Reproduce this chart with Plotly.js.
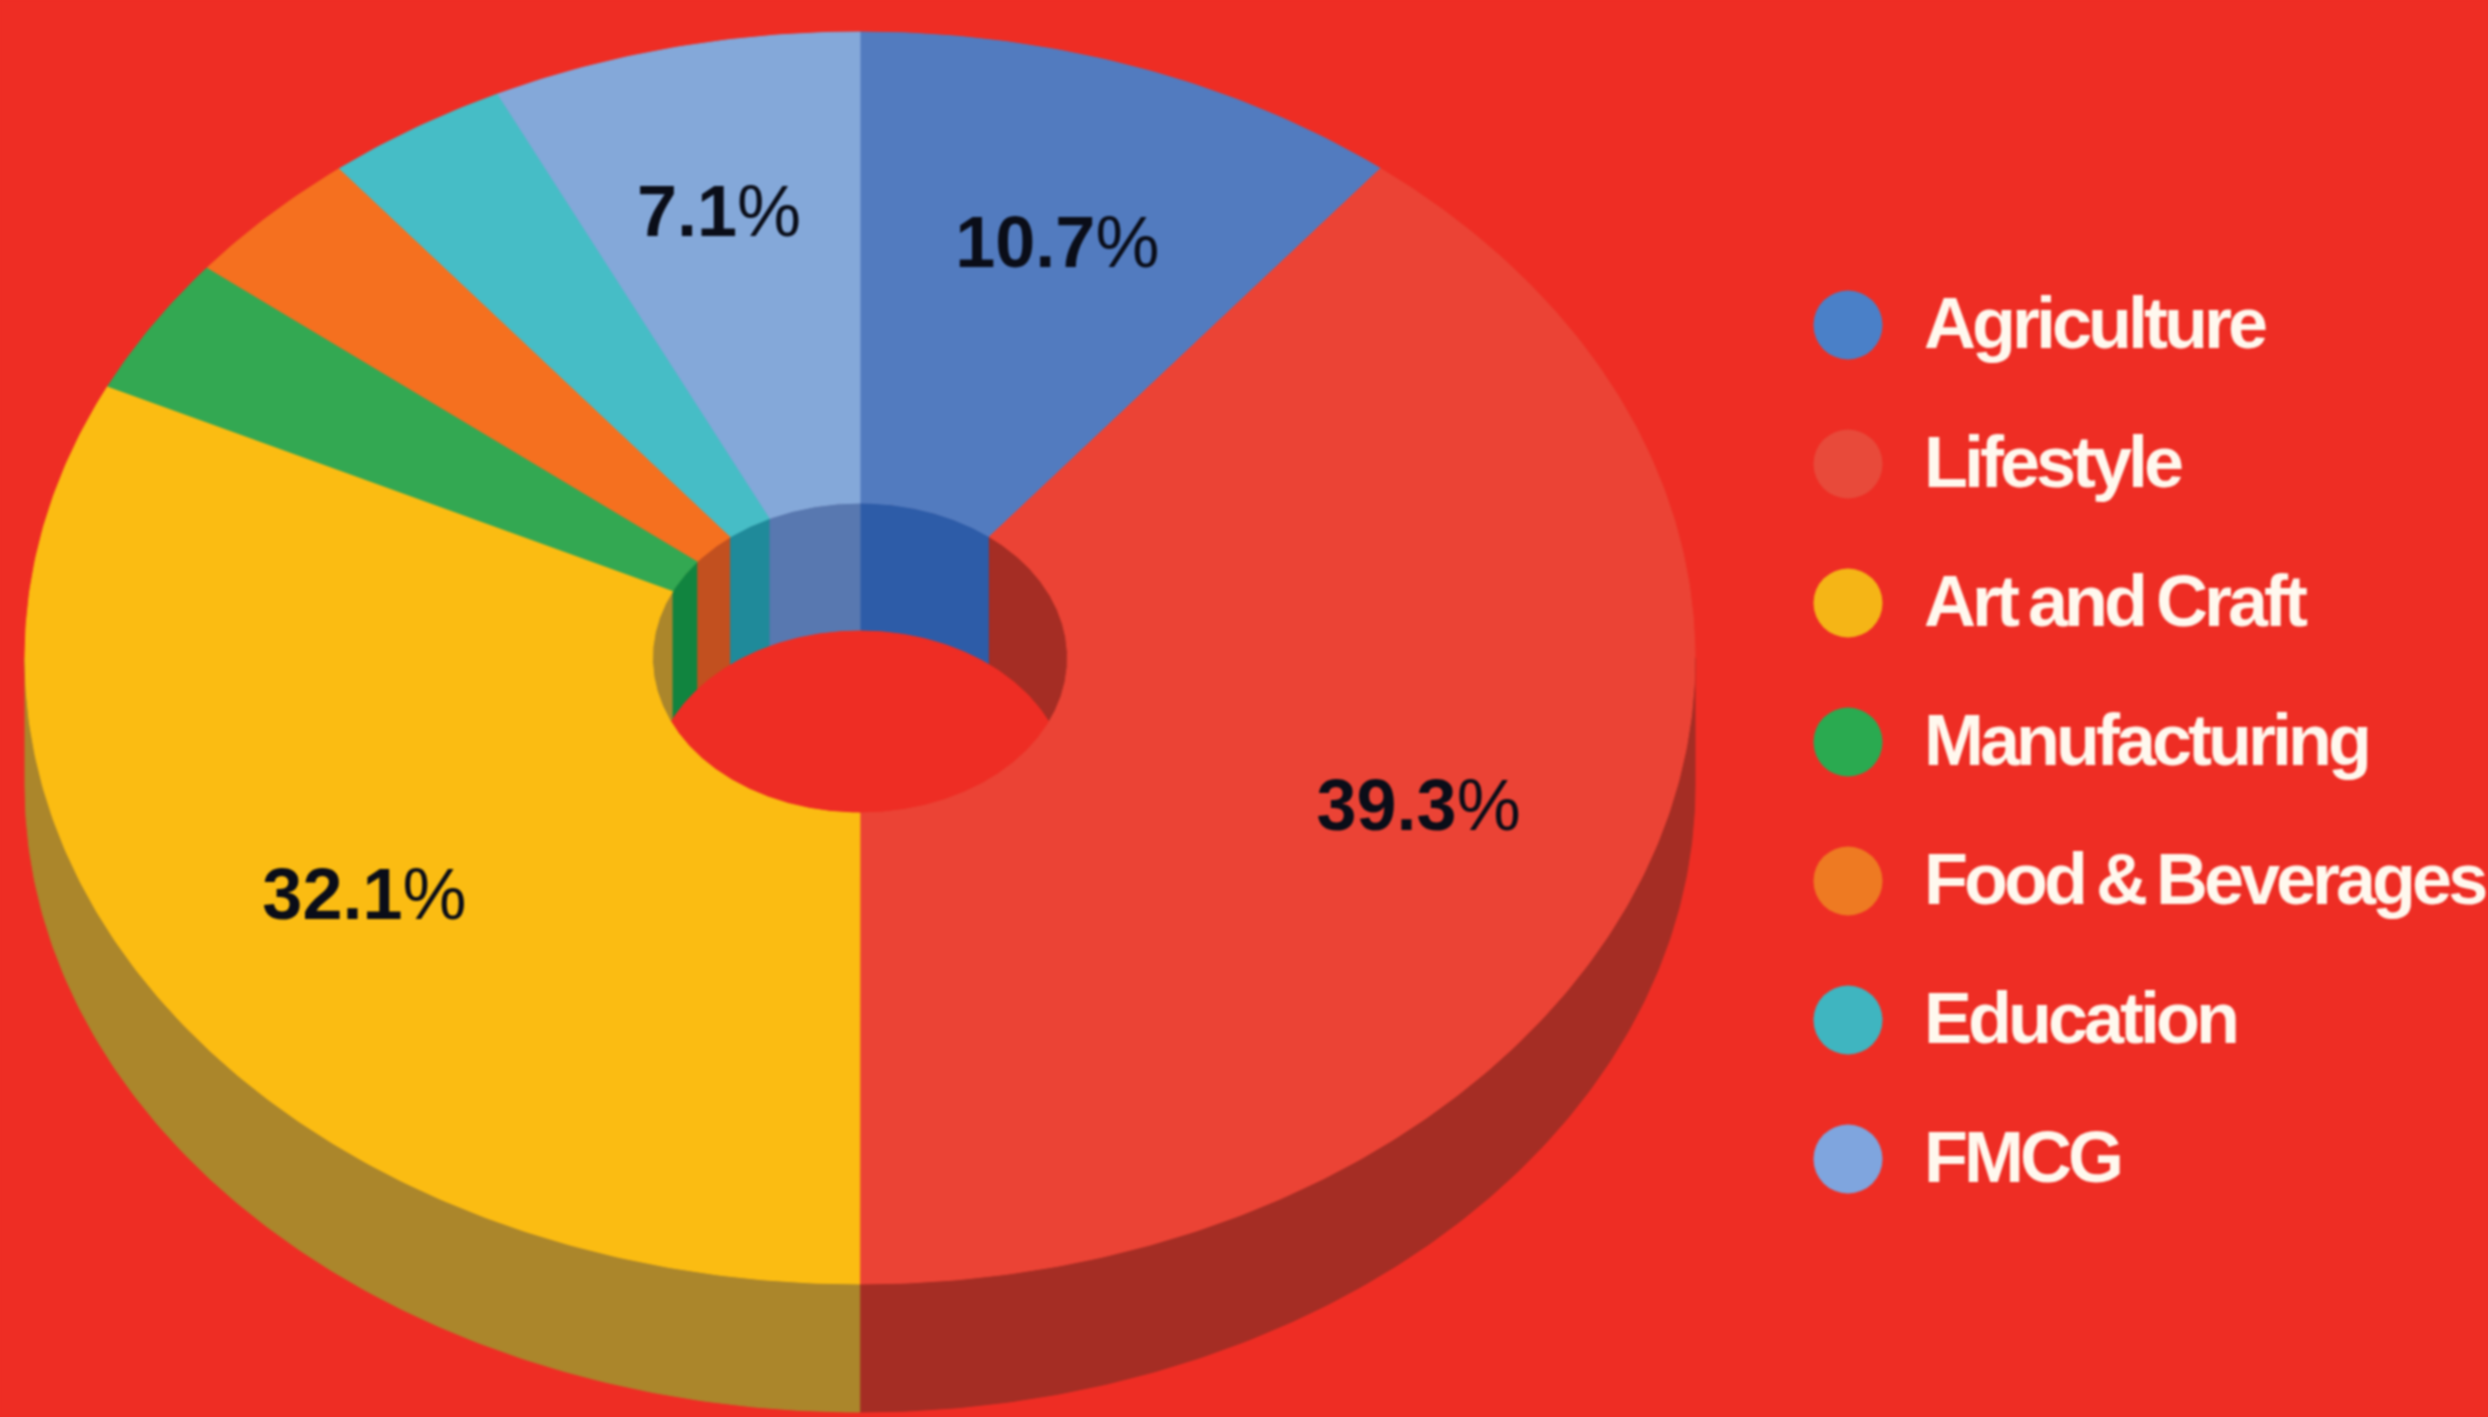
<!DOCTYPE html>
<html>
<head>
<meta charset="utf-8">
<script src="https://cdn.plot.ly/plotly-3.0.1.min.js"></script>
<style>
html,body{margin:0;padding:0;background:#ee2d24;overflow:hidden}
#chart{width:2488px;height:1417px;filter:blur(1.2px)}
.scatterlayer .trace:last-child .textpoint text{letter-spacing:-4px;word-spacing:-4px}
</style>
</head>
<body>
<div id="chart"></div>
<script>
const categories = ["Agriculture","Lifestyle","Art and Craft","Manufacturing","Food & Beverages","Education","FMCG"];
const shares = [10.71,39.29,32.14,3.57,3.57,3.57,7.14];
const topColors = ["#527bbf","#eb4335","#fbbc12","#33a852","#f5701f","#46bdc6","#84a8d9"];
const wallColors = ["#2d5ca8","#a52d24","#ab862b","#11843f","#c2501f","#1f8a9a","#5878b0"];
const legendMarkerColors = ["#4a80c8","#e84a3a","#f5b516","#2aaa50","#ee7a22","#3fb5c0","#7fa5de"];
const background = "#ee2d24";

// Projection of the tilted doughnut, in page pixels
const cx = 860, cy = 658, rx = 835, ry = 626, holeRx = 207.5, holeRy = 155, depth = 128;
const labelRadius = 0.705, minLabelShare = 5, labelDy = 8;
const fmcgLabelNudge = [-10, -18];
const legendX = 1848, legendTextX = 1924, legendTop = 325, legendStep = 139, legendTextDy = 5;

const total = shares.reduce((a,b)=>a+b,0);
const bounds = [0];
shares.forEach(s => bounds.push(bounds[bounds.length-1] + s/total*360));

function arc(a0,a1,frx,fry,dy){
  const n = Math.max(2, Math.ceil(Math.abs(a1-a0)*2));
  const xs=[],ys=[];
  for(let i=0;i<=n;i++){
    const t=(a0+(a1-a0)*i/n)*Math.PI/180;
    xs.push(cx+frx*Math.sin(t));
    ys.push(cy+dy-fry*Math.cos(t));
  }
  return [xs,ys];
}
function band(a0,a1,r1x,r1y,d1,r2x,r2y,d2,color){
  const A=arc(a0,a1,r1x,r1y,d1), B=arc(a1,a0,r2x,r2y,d2);
  return {x:A[0].concat(B[0],[A[0][0]]),y:A[1].concat(B[1],[A[1][0]]),mode:"lines",fill:"toself",
    fillcolor:color,line:{color:color,width:1},hoverinfo:"skip",showlegend:false,type:"scatter"};
}
function clip(a0,a1,lo,hi){
  const s=Math.max(a0,lo), e=Math.min(a1,hi);
  return e>s?[s,e]:null;
}
const traces=[];
// outer wall: front half only
shares.forEach((s,i)=>{
  const c=clip(bounds[i],bounds[i+1],90,270);
  if(c) traces.push(band(c[0],c[1],rx,ry,0,rx,ry,depth,wallColors[i]));
});
// inner wall: back half only
shares.forEach((s,i)=>{
  [[0,90],[270,360]].forEach(w=>{
    const c=clip(bounds[i],bounds[i+1],w[0],w[1]);
    if(c) traces.push(band(c[0],c[1],holeRx,holeRy,0,holeRx,holeRy,depth,wallColors[i]));
  });
});
// floor of the hole
const floorArc=arc(0,360,holeRx,holeRy,depth);
traces.push({x:floorArc[0],y:floorArc[1],mode:"lines",fill:"toself",fillcolor:background,
  line:{color:background,width:1},hoverinfo:"skip",showlegend:false,type:"scatter"});
// top faces
shares.forEach((s,i)=>{
  traces.push(band(bounds[i],bounds[i+1],rx,ry,0,holeRx,holeRy,0,topColors[i]));
});
// percentage labels
const lx=[],ly=[],lt=[];
shares.forEach((s,i)=>{
  if(s<minLabelShare) return;
  const t=(bounds[i]+bounds[i+1])/2*Math.PI/180;
  const nudge = categories[i]==="FMCG" ? fmcgLabelNudge : [3,0];
  lx.push(cx+labelRadius*rx*Math.sin(t)+nudge[0]);
  ly.push(cy-labelRadius*ry*Math.cos(t)+labelDy+nudge[1]);
  lt.push("<b>"+s.toFixed(1)+"</b>%");
});
traces.push({x:lx,y:ly,text:lt,mode:"text",textposition:"middle center",type:"scatter",
  textfont:{family:"Liberation Sans",size:72,color:"#0a0d18"},hoverinfo:"skip",showlegend:false});
// legend
const legY=categories.map((c,i)=>legendTop+i*legendStep);
traces.push({x:categories.map(()=>legendX),y:legY,mode:"markers",type:"scatter",
  marker:{size:69,color:legendMarkerColors,line:{width:0}},hoverinfo:"skip",showlegend:false});
traces.push({x:categories.map(()=>legendTextX),y:legY.map(v=>v+legendTextDy),text:categories.map(c=>"<b>"+c+"</b>"),mode:"text",
  textposition:"middle right",type:"scatter",
  textfont:{family:"Liberation Sans",size:72,color:"#fff8ee"},hoverinfo:"skip",showlegend:false});

const axis={visible:false,showgrid:false,zeroline:false,fixedrange:true};
Plotly.newPlot("chart",traces,{
  width:2488,height:1417,margin:{l:0,r:0,t:0,b:0,pad:0},
  paper_bgcolor:background,plot_bgcolor:background,showlegend:false,
  xaxis:Object.assign({range:[0,2488]},axis),
  yaxis:Object.assign({range:[1417,0]},axis)
},{displayModeBar:false,staticPlot:true});
</script>
</body>
</html>
